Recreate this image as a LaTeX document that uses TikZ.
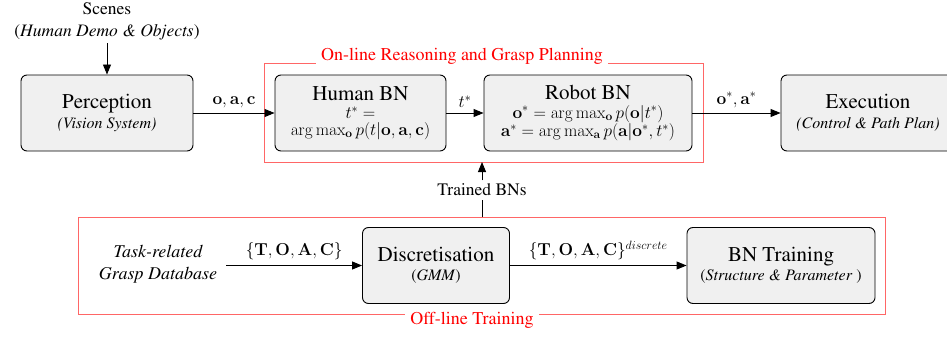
\documentclass[tikz,border=0pt]{standalone}
\usepackage[T1]{fontenc}
\usepackage{amsmath}
\usepackage{times}
\usetikzlibrary{arrows.meta,positioning}

\newcommand{\titlesize}{\fontsize{21}{23}\selectfont}

\tikzset{
  procbox/.style={draw=black, line width=0.9pt, rounded corners=6pt, fill=gray!12,
    minimum height=76pt, align=center, inner sep=2pt},
  twoline/.style={procbox, font=\fontsize{16}{19.5}\selectfont},
  threeline/.style={procbox, font=\fontsize{17}{16.5}\selectfont},
  arr/.style={-{Triangle[length=10pt,width=8pt]}, line width=0.9pt},
  plain/.style={line width=0.9pt},
  stagebox/.style={draw=red!60, line width=1pt},
  stagelabel/.style={text=red, fill=white, font=\fontsize{18}{20}\selectfont, inner sep=5pt},
  lbl/.style={font=\fontsize{18}{20}\selectfont, inner sep=2pt},
}

\begin{document}
\begin{tikzpicture}[x=1pt,y=-1pt]
\useasboundingbox (0,0) rectangle (947,337);

% stage frames
\draw[stagebox] (264,64) rectangle (703,162);
\node[stagelabel] (onlbl) at (462,56) {On-line Reasoning and Grasp Planning};
\draw[stagebox] (78,217) rectangle (885,314);
\node[stagelabel] (offlbl) at (472,320) {Off-line Training};
\coordinate (onbot) at (482,162);
\coordinate (offtop) at (482,217);

% top row
\node[font=\fontsize{17.5}{22}\selectfont, align=center] (scenes) at (107,21)
  {Scenes\\(\textit{Human Demo \& Objects})};

\node[twoline, minimum width=172pt] (perc) at (107,113)
  {{\titlesize Perception}\\{\itshape (Vision System)}};

\node[threeline, minimum width=171pt] (human) at (360.5,113)
  {{\titlesize Human BN}\\[2pt]
   $t^{*}=$\\
   $\arg\max_{\mathbf{o}} p(t|\mathbf{o},\mathbf{a},\mathbf{c})$};

\node[threeline, minimum width=208pt] (robot) at (588,113)
  {{\titlesize Robot BN}\\[2pt]
   $\mathbf{o}^{*}=\arg\max_{\mathbf{o}} p(\mathbf{o}|t^{*})$\\
   $\mathbf{a}^{*}=\arg\max_{\mathbf{a}} p(\mathbf{a}|\mathbf{o}^{*},t^{*})$};

\node[twoline, minimum width=174pt] (exec) at (868,113)
  {{\titlesize Execution}\\{\itshape (Control \& Path Plan)}};

\draw[arr] (scenes) -- (perc);
\draw[arr] (perc) -- node[lbl, above=3pt] {$\mathbf{o},\mathbf{a},\mathbf{c}$} (human);
\draw[arr] (human) -- node[lbl, above=3pt] {$t^{*}$} (robot);
\draw[arr] (robot) -- node[lbl, above=3pt] {$\mathbf{o}^{*},\mathbf{a}^{*}$} (exec);

% trained networks feed back into the on-line stage
\node[font=\fontsize{17.5}{20}\selectfont] (trained) at (482,190) {Trained BNs};
\draw[arr] (trained) -- (onbot);
\draw[plain] (offtop) -- (trained);

% bottom row
\node[font=\fontsize{18}{22}\selectfont\itshape, align=center, inner xsep=9pt] (db) at (158,264)
  {Task-related\\Grasp Database};

\node[twoline, minimum width=147pt] (disc) at (436,265.5)
  {{\titlesize Discretisation}\\(\textit{GMM})};

\node[twoline, minimum width=188pt] (train) at (781,265.5)
  {{\titlesize BN Training}\\(\textit{Structure \& Parameter })};

\draw[arr] (db.east |- disc.west) -- node[lbl, above=3pt]
  {$\{\mathbf{T},\mathbf{O},\mathbf{A},\mathbf{C}\}$} (disc);
\draw[arr] (disc) -- node[lbl, above=3pt]
  {$\{\mathbf{T},\mathbf{O},\mathbf{A},\mathbf{C}\}^{discrete}$} (train);
\end{tikzpicture}
\end{document}
